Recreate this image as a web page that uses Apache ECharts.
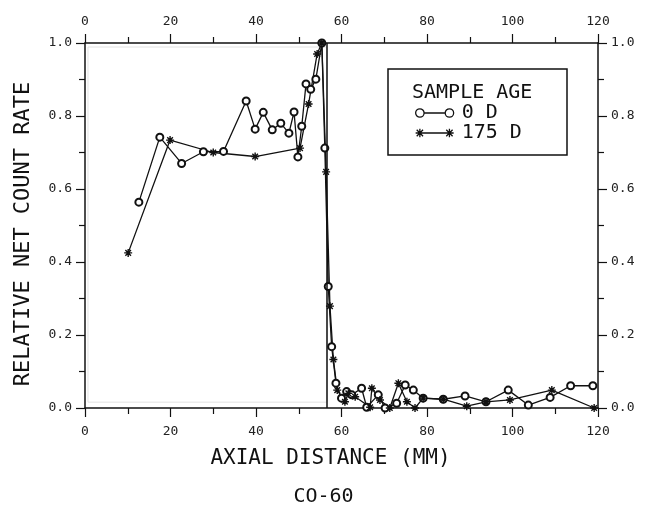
<!DOCTYPE html>
<html>
<head>
<meta charset="utf-8">
<script src="https://cdn.jsdelivr.net/npm/echarts@6/dist/echarts.min.js"></script>
<style>
  html, body { margin: 0; padding: 0; background: #fff; }
  #chart { width: 647px; height: 506px; }
</style>
</head>
<body>
<div id="chart"></div>
<script>
// sample age 0 D (circles)
const dist0 = [12.6, 17.5, 22.6, 27.7, 32.4, 37.7, 39.8, 41.7, 43.8, 45.8, 47.7, 48.9, 49.8, 50.7, 51.7, 52.8, 54.0, 55.4, 56.1,
  56.9, 57.7, 58.7, 60.0, 61.2, 62.4, 64.7, 65.9, 68.6, 70.2, 72.9, 74.9, 76.8, 79.1, 83.8, 88.9, 93.8, 99.0, 103.7, 108.8, 113.6, 118.8];
const rate0 = [0.564, 0.742, 0.670, 0.702, 0.703, 0.841, 0.764, 0.810, 0.762, 0.780, 0.753, 0.811, 0.688, 0.772, 0.888, 0.873, 0.901, 1.0, 0.712,
  0.333, 0.168, 0.068, 0.027, 0.045, 0.036, 0.054, 0.002, 0.036, 0.0, 0.013, 0.063, 0.049, 0.027, 0.024, 0.033, 0.017, 0.049, 0.008, 0.029, 0.061, 0.061];

// sample age 175 D (asterisks)
const dist175 = [10.1, 19.9, 30.0, 39.8, 50.3, 52.3, 54.3, 55.4, 56.4,
  57.3, 58.1, 59.0, 60.8, 61.6, 63.2, 66.7, 67.1, 69.0, 71.3, 73.3, 75.3, 77.2, 79.1, 83.8, 89.3, 93.8, 99.4, 109.2, 119.1];
const rate175 = [0.425, 0.734, 0.700, 0.689, 0.712, 0.833, 0.970, 1.0, 0.647,
  0.279, 0.133, 0.049, 0.017, 0.040, 0.031, 0.002, 0.054, 0.022, 0.0, 0.068, 0.017, 0.0, 0.027, 0.024, 0.005, 0.017, 0.022, 0.049, 0.0];

const boundaryX = 56.6;
const xTicks = [0, 20, 40, 60, 80, 100, 120];
const yTicks = [0, 0.2, 0.4, 0.6, 0.8, 1.0];
const ageLabels = ['0 D', '175 D'];

const mono = 'DejaVu Sans Mono';
const ink = '#111';
const asterisk = 'path://M5,0L5,10M0,5L10,5M1.5,1.5L8.5,8.5M8.5,1.5L1.5,8.5';
// legend icons: symbol - line - symbol, like the plotter key
const circleKey = 'path://M1,5A4,4,0,1,1,9,5A4,4,0,1,1,1,5M9,5L29,5M29,5A4,4,0,1,1,37,5A4,4,0,1,1,29,5';
const starKey = 'path://M5,1L5,9M1,5L9,5M2,2L8,8M8,2L2,8M9,5L29,5M33,1L33,9M29,5L37,5M30,2L36,8M36,2L30,8';

let pairs = (xs, ys) => xs.map((x, i) => [x, ys[i]]);

let xAxisBase = (pos, margin) => ({
  type: 'value',
  position: pos,
  min: xTicks[0],
  max: xTicks[xTicks.length - 1],
  interval: 20,
  axisLine: { onZero: false, lineStyle: { color: ink, width: 1.5 } },
  axisTick: { show: true, length: 9, lineStyle: { color: ink, width: 1.2 } },
  minorTick: { show: true, splitNumber: 2, length: 6, lineStyle: { color: ink, width: 1.2 } },
  splitLine: { show: false },
  axisLabel: { color: '#222', fontFamily: mono, fontSize: 13, margin: margin }
});

let yAxisBase = (pos) => ({
  type: 'value',
  position: pos,
  min: yTicks[0],
  max: yTicks[yTicks.length - 1],
  interval: 0.2,
  axisLine: { onZero: false, lineStyle: { color: ink, width: 1.5 } },
  axisTick: { show: true, length: 9, lineStyle: { color: ink, width: 1.2 } },
  minorTick: { show: true, splitNumber: 2, length: 6, lineStyle: { color: ink, width: 1.2 } },
  splitLine: { show: false },
  axisLabel: { color: '#222', fontFamily: mono, fontSize: 13, margin: 13, formatter: v => v.toFixed(1) }
});

let chart = echarts.init(document.getElementById('chart'), null, { renderer: 'canvas' });

let bottomX = xAxisBase('bottom', 17);
bottomX.name = 'AXIAL DISTANCE (MM)';
bottomX.nameLocation = 'middle';
bottomX.nameGap = 40;
bottomX.nameTextStyle = { color: ink, fontFamily: mono, fontSize: 21, padding: [0, 22, 0, 0] };

let leftY = yAxisBase('left');
leftY.name = 'RELATIVE NET COUNT RATE';
leftY.nameLocation = 'middle';
leftY.nameGap = 51;
leftY.nameTextStyle = { color: ink, fontFamily: mono, fontSize: 22, padding: [0, 17, 0, 0] };

let option = {
  backgroundColor: '#fff',
  animation: false,
  title: {
    text: 'CO-60',
    left: 'center',
    top: 482,
    textStyle: { color: ink, fontFamily: mono, fontSize: 20, fontWeight: 'normal' }
  },
  grid: { left: 85, right: 49, top: 43, bottom: 98 },
  xAxis: [bottomX, xAxisBase('top', 15)],
  yAxis: [leftY, yAxisBase('right')],
  legend: {
    orient: 'vertical',
    left: 410,
    top: 98,
    itemWidth: 38,
    itemHeight: 10,
    itemGap: 0,
    data: [
      { name: ageLabels[0], icon: circleKey, itemStyle: { color: 'rgba(0,0,0,0)', borderColor: ink, borderWidth: 1.3 } },
      { name: ageLabels[1], icon: starKey, itemStyle: { color: 'rgba(0,0,0,0)', borderColor: ink, borderWidth: 1.3 } }
    ],
    textStyle: { color: ink, fontFamily: mono, fontSize: 20, lineHeight: 18, padding: [0, 0, 0, 3] }
  },
  graphic: [
    {
      type: 'rect',
      shape: { x: 388, y: 69, width: 179, height: 86 },
      style: { fill: 'none', stroke: ink, lineWidth: 1.5 }
    },
    {
      type: 'text',
      x: 412, y: 93,
      style: { text: 'SAMPLE AGE', fill: ink, font: '20px "DejaVu Sans Mono"', verticalAlign: 'middle' }
    }
  ],
  series: [
    {
      name: ageLabels[0],
      type: 'line',
      data: pairs(dist0, rate0),
      symbol: 'emptyCircle',
      symbolSize: 7,
      lineStyle: { color: ink, width: 1.3 },
      itemStyle: { color: ink, borderColor: ink, borderWidth: 1.2 },
      markLine: {
        silent: true,
        symbol: 'none',
        label: { show: false },
        lineStyle: { color: ink, width: 1.5, type: 'solid' },
        data: [{ xAxis: boundaryX }]
      },
      markArea: {
        silent: true,
        itemStyle: { color: 'rgba(0,0,0,0)', borderColor: '#e2e2e2', borderWidth: 1 },
        data: [[{ xAxis: 0.7, yAxis: 0.016 }, { xAxis: boundaryX, yAxis: 0.989 }]]
      }
    },
    {
      name: ageLabels[1],
      type: 'line',
      data: pairs(dist175, rate175),
      symbol: asterisk,
      symbolSize: 8,
      lineStyle: { color: ink, width: 1.3 },
      itemStyle: { color: ink, borderColor: ink, borderWidth: 1.4 }
    }
  ]
};

chart.setOption(option);
</script>
</body>
</html>
